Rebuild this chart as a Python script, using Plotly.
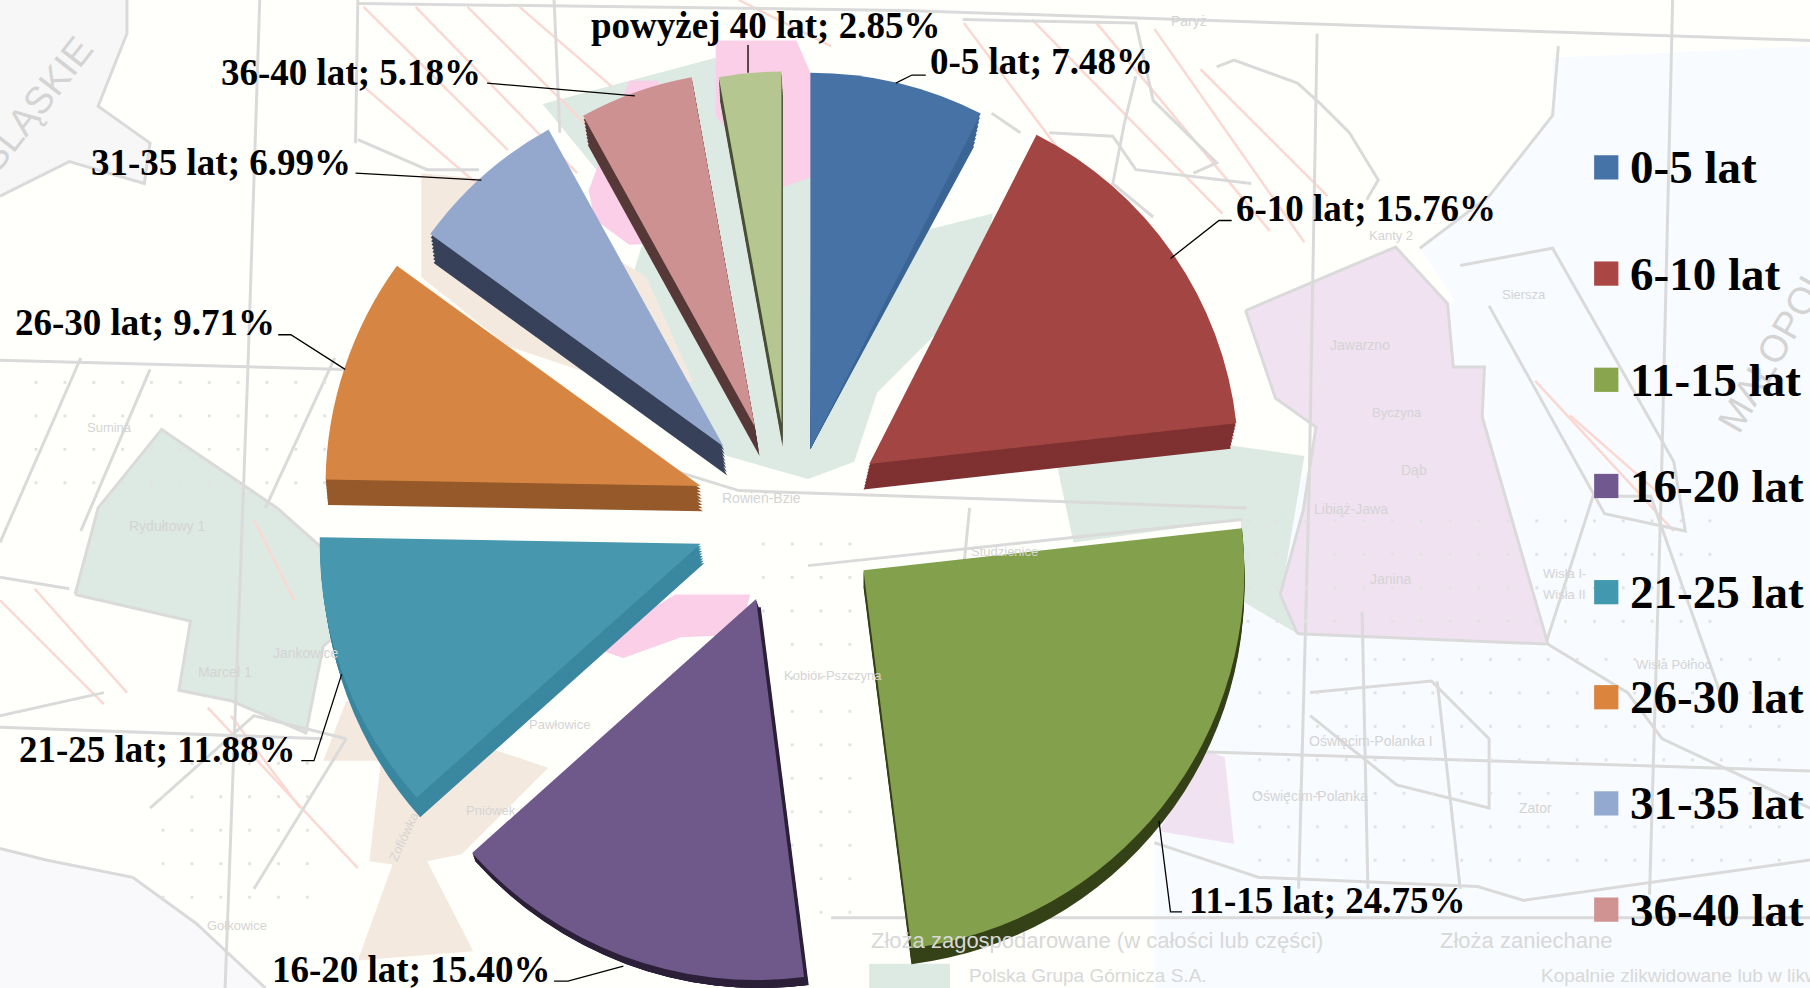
import plotly.graph_objects as go

age_labels = ["0-5 lat", "6-10 lat", "11-15 lat", "16-20 lat", "21-25 lat",
              "26-30 lat", "31-35 lat", "36-40 lat", "powyżej 40 lat"]
shares = [7.48, 15.76, 24.75, 15.40, 11.88, 9.71, 6.99, 5.18, 2.85]
share_text = ["7.48%", "15.76%", "24.75%", "15.40%", "11.88%", "9.71%", "6.99%", "5.18%", "2.85%"]

top_colors = ["#4672a6", "#a34543", "#83a04c", "#6f598a", "#4797af", "#d68642", "#93a8cc", "#cc9190", "#b5c691"]
legend_colors = ["#4572a7", "#aa4643", "#89a54e", "#71588f", "#4198af", "#db843d", "#93a9cf", "#d19392", "#b9cd96"]
side_colors = ["#3b6595", "#7f3030", "#354218", "#2c2039", "#3a87a0", "#96592a", "#38415a", "#573838", "#4a4f38"]

W, H = 1810, 988
S = W / 1568
# exploded layout, in px of the 1568-wide view: slice tip x, y and radius
tips = [(702, 389, 326), (753, 402, 320), (748, 494, 330), (655, 519, 330), (607, 471, 330),
        (607, 421, 325), (627, 387, 314), (654, 370, 308), (677, 367, 305)]
# extrusion: shift x, y, radius change, rotation
sides = [(0, 0, -28, 1.5), (-5, 22, 0, 0), (0, 14, 0, 0), (4, 12, 0, 0), (3, 17, 0, 0),
         (2, 22, 0, 0), (3, 25, 0, 0), (4, 25, 0, 0), (1, 20, 0, 0)]
STEPS = 8


def slice_trace(i, color, dx=0, dy=0, dr=0, rot=0, hover=False):
    tx, ty, r = tips[i]
    cx, cy, rad = (tx + dx) * S, (ty + dy) * S, (r + dr) * S
    if cy + rad > H:
        cy = H - rad
    colors = ["rgba(0,0,0,0)"] * len(shares)
    colors[i] = color
    return go.Pie(labels=age_labels, values=shares, sort=False, direction="clockwise", rotation=rot,
                  marker=dict(colors=colors, line=dict(width=0)), textinfo="none",
                  hoverinfo="label+percent" if hover else "skip", showlegend=False,
                  domain=dict(x=[(cx - rad) / W, (cx + rad) / W], y=[1 - (cy + rad) / H, 1 - (cy - rad) / H]))


fig = go.Figure()
for i in range(len(shares)):
    for k in range(STEPS, 0, -1):
        f = k / STEPS
        sx, sy, sr, srot = sides[i]
        fig.add_trace(slice_trace(i, side_colors[i], sx * f, sy * f, sr * f, srot * f))
for i in range(len(shares)):
    fig.add_trace(slice_trace(i, top_colors[i], hover=True))

# ---- faded map behind the chart ----
fills = [
    ("#f8fbff", [(1345, 50), (1568, 40), (1568, 856), (1000, 856), (1000, 730), (1080, 470), (1140, 400), (1260, 260), (1230, 215), (1290, 170), (1345, 100)]),
    ("#f9f9fc", [(0, 735), (40, 745), (115, 760), (170, 800), (230, 856), (0, 856)]),
    ("#f7f7f7", [(0, 0), (110, 0), (110, 29), (85, 92), (130, 124), (125, 159), (60, 140), (0, 170)]),
    ("#dde9e3", [(470, 90), (620, 50), (690, 60), (800, 200), (860, 185), (850, 250), (760, 340), (740, 400), (700, 415), (630, 395), (520, 330), (560, 200)]),
    ("#fbcfe8", [(620, 35), (690, 35), (705, 70), (712, 150), (670, 165), (620, 100)]),
    ("#fbcfe8", [(510, 165), (545, 70), (570, 70), (600, 210), (545, 212), (515, 190)]),
    ("#fbcfe8", [(585, 515), (650, 515), (640, 550), (590, 552), (540, 570), (510, 560)]),
    ("#f4e9de", [(365, 150), (420, 155), (560, 240), (600, 330), (560, 340), (440, 300), (365, 240)]),
    ("#f4e9de", [(300, 607), (475, 665), (400, 740), (370, 746), (410, 824), (310, 832), (340, 749), (320, 746), (330, 659), (280, 659)]),
    ("#dde9e3", [(65, 515), (85, 440), (140, 372), (240, 440), (285, 480), (325, 520), (280, 560), (265, 635), (200, 607), (155, 598), (165, 538)]),
    ("#f0e2f1", [(1079, 269), (1209, 214), (1254, 263), (1259, 318), (1286, 318), (1284, 361), (1341, 558), (1124, 549), (1109, 515), (1129, 442), (1140, 370), (1105, 345)]),
    ("#f0e2f1", [(1044, 650), (1061, 656), (1069, 731), (1004, 720)]),
    ("#dde9e3", [(915, 400), (1060, 385), (1130, 395), (1110, 515), (1124, 549), (1075, 520), (1075, 450), (930, 470)]),
    ("#dde9e3", [(753, 835), (823, 835), (823, 856), (753, 856)]),
]
grey_lines = [
    [(310, 3), (784, 9), (1568, 35)], [(0, 312), (300, 320), (640, 425), (1080, 440)],
    [(225, 0), (215, 312), (195, 856)], [(1141, 29), (1134, 428), (1125, 770)],
    [(1449, 0), (1439, 428), (1429, 775)], [(720, 795), (1568, 795)],
    [(1000, 730), (1090, 760), (1280, 768), (1320, 780), (1568, 745)],
    [(1124, 549), (1341, 558), (1410, 600), (1440, 640), (1568, 700)],
    [(1079, 269), (1209, 214), (1254, 263), (1259, 318), (1286, 318), (1284, 361), (1341, 558)],
    [(1124, 549), (1109, 515), (1129, 442), (1140, 370), (1105, 345), (1079, 269)],
    [(1230, 215), (1290, 170), (1345, 100), (1350, 40)], [(1340, 555), (1380, 430), (1430, 430), (1490, 600)],
    [(1265, 230), (1345, 215), (1450, 400), (1460, 460), (1390, 445), (1290, 265)],
    [(65, 515), (85, 440), (140, 372), (240, 440), (285, 480), (325, 520), (280, 560), (265, 635), (200, 607), (155, 598), (165, 538), (65, 515)],
    [(0, 735), (40, 745), (115, 760), (170, 800), (230, 856)], [(0, 170), (60, 140), (125, 159), (130, 124), (85, 92), (110, 29), (110, 0)],
    [(1135, 600), (1240, 590), (1290, 640), (1290, 700), (1210, 680), (1135, 620)],
    [(1245, 590), (1265, 770)], [(1000, 650), (1570, 668)], [(1180, 530), (1185, 770)],
    [(0, 630), (280, 640)], [(130, 700), (220, 620), (300, 640)], [(220, 770), (300, 640)],
    [(700, 490), (1076, 450)], [(840, 440), (830, 540)],
    [(0, 500), (60, 510)], [(90, 600), (0, 620)], [(70, 310), (0, 470)], [(130, 320), (70, 460)],
    [(230, 440), (290, 310)], [(360, 250), (300, 320)],
    [(834, 17), (984, 20), (999, 87), (1054, 141), (1034, 150)], [(984, 66), (974, 107), (964, 159), (999, 188)],
    [(1054, 58), (1069, 52), (1124, 72), (1144, 90), (1169, 115), (1194, 156), (1184, 173)],
    [(909, 115), (964, 118), (984, 147), (1084, 159)], [(859, 98), (884, 115)],
    [(480, 0), (485, 115)], [(310, 121), (370, 147), (415, 147)], [(310, 0), (308, 124)],
]
red_lines = [
    [(315, 6), (440, 130)], [(360, 6), (500, 150)], [(405, 6), (560, 160)], [(315, 75), (420, 165)], [(450, 6), (530, 75)],
    [(835, 20), (1000, 240)], [(894, 17), (1059, 185)], [(950, 20), (1100, 200)], [(1000, 25), (1130, 210)],
    [(1040, 60), (1150, 170)], [(1330, 330), (1450, 460)], [(1360, 360), (1440, 430)],
    [(180, 613), (310, 752)], [(200, 620), (260, 700)], [(0, 520), (90, 610)], [(30, 510), (110, 600)],
    [(220, 450), (255, 520)], [(640, 0), (720, 40)],
]
dot_fields = [(1090, 1560, 570, 770), (660, 760, 470, 800), (1080, 1500, 450, 555), (30, 290, 330, 440), (140, 290, 660, 780)]
faint_labels = [
    ("Jawarzno", 1178, 299, 14, 0), ("Dąb", 1225, 407, 14, 0), ("Janina", 1205, 502, 14, 0),
    ("Byczyna", 1210, 357, 13, 0), ("Libiąż-Jawa", 1170, 441, 14, 0), ("Wisła I-", 1355, 497, 13, 0),
    ("Wisła II", 1355, 515, 13, 0), ("Wisła Północ", 1450, 576, 13, 0), ("Oświęcim-Polanka I", 1188, 642, 14, 0),
    ("Oświęcim-Polanka", 1135, 690, 14, 0), ("Zator", 1330, 700, 14, 0), ("Siersza", 1320, 255, 13, 0),
    ("Kanty 2", 1205, 204, 13, 0), ("Rydułtowy 1", 145, 456, 14, 0), ("Marcel 1", 195, 582, 14, 0),
    ("Jankowice", 265, 566, 14, 0), ("Sumina", 95, 370, 13, 0), ("Rowień-Bzie", 660, 431, 14, 0),
    ("Kobiór-Pszczyna", 722, 585, 13, 0), ("Studzienice", 870, 478, 13, 0), ("Pawłowice", 485, 628, 13, 0),
    ("Gołkowice", 205, 802, 13, 0), ("Zofiówka", 350, 725, 13, -65), ("Pniówek", 425, 702, 13, 0),
    ("ŚLĄSKIE", 30, 90, 38, -52), ("MAŁOPOLSKIE", 1555, 270, 38, -60), ("Paryż", 1030, 18, 14, 0),
]


def to_paper(poly):
    return " ".join(("M" if i == 0 else "L") + f"{x * S / W:.5f},{1 - y * S / H:.5f}" for i, (x, y) in enumerate(poly))


shapes = []
for color, poly in fills:
    shapes.append(dict(type="path", path=to_paper(poly) + " Z", xref="paper", yref="paper", fillcolor=color, line=dict(width=0), layer="below"))
for poly in red_lines:
    shapes.append(dict(type="path", path=to_paper(poly), xref="paper", yref="paper", line=dict(color="#fbd8d2", width=2.5), layer="below"))
for poly in grey_lines:
    shapes.append(dict(type="path", path=to_paper(poly), xref="paper", yref="paper", line=dict(color="#dadada", width=3), layer="below"))
for x0, x1, y0, y1 in dot_fields:
    for gy in range(y0, y1, 29):
        for gx in range(x0, x1, 25):
            shapes.append(dict(type="rect", x0=gx * S / W, x1=(gx + 2.5) * S / W, y0=1 - (gy + 2.5) * S / H, y1=1 - gy * S / H,
                               xref="paper", yref="paper", fillcolor="#e2e2e2", line=dict(width=0), layer="below"))

annotations = []


def text(s, x, y, size, color="#000000", family="Liberation Serif", bold=True, angle=0, anchor="left"):
    annotations.append(dict(text=f"<b>{s}</b>" if bold else s, x=x * S / W, y=1 - y * S / H, xref="paper", yref="paper",
                            xanchor=anchor, yanchor="middle", showarrow=False, textangle=angle,
                            font=dict(family=family, size=size, color=color)))


for s, x, y, size, ang in faint_labels:
    text(s, x, y, size, "#d4d4d4", "Liberation Sans Narrow, Liberation Sans", False, ang, "center")
text("Złoża zagospodarowane (w całości lub części)", 753, 815, 22, "#d8d8d8", "Liberation Sans", False)
text("Złoża zaniechane", 1246, 815, 22, "#d8d8d8", "Liberation Sans", False)
text("Polska Grupa Górnicza S.A.", 838, 845, 19, "#d8d8d8", "Liberation Sans", False)
text("Kopalnie zlikwidowane lub w likwidacji", 1333, 845, 19, "#d8d8d8", "Liberation Sans", False)

# ---- leader lines and data labels ----
label_pos = [(804, 53), (1069, 181), (1028, 780), (234, 840), (15, 649), (11, 279), (77, 141), (190, 63), (510, 22)]
leaders = [
    [(776, 72), (790, 65), (802, 65)], [(1014, 224), (1056, 191), (1067, 191)],
    [(1004, 711), (1014, 790), (1024, 790)], [(540, 837), (492, 850), (480, 850)],
    [(296, 584), (272, 659), (261, 659)], [(299, 320), (252, 290), (241, 290)],
    [(417, 156), (308, 150)], [(550, 83), (422, 72)], [(648, 63), (648, 39)],
]
for poly in leaders:
    shapes.append(dict(type="path", path=to_paper(poly), xref="paper", yref="paper", line=dict(color="#000000", width=1.3), layer="above"))
for lab, pct, (x, y) in zip(age_labels, share_text, label_pos):
    text(f"{lab}; {pct}", x, y, 37)

# ---- legend (the ninth entry falls below the page in the reference) ----
legend_y = [145, 237, 329, 421, 513, 604, 696, 788]
for lab, col, y in zip(age_labels, legend_colors, legend_y):
    shapes.append(dict(type="rect", x0=1381 * S / W, x1=1402 * S / W, y0=1 - (y + 10.5) * S / H, y1=1 - (y - 10.5) * S / H,
                       xref="paper", yref="paper", fillcolor=col, line=dict(width=0), layer="above"))
    text(lab, 1410, y, 47)

fig.update_layout(width=W, height=H, margin=dict(l=0, r=0, t=0, b=0), paper_bgcolor="#fffffc",
                  plot_bgcolor="rgba(0,0,0,0)", showlegend=False, shapes=shapes, annotations=annotations)
fig.write_html("out.html", config=dict(displayModeBar=False),
               post_script="document.body.style.margin='0';document.documentElement.style.overflow='hidden';")
